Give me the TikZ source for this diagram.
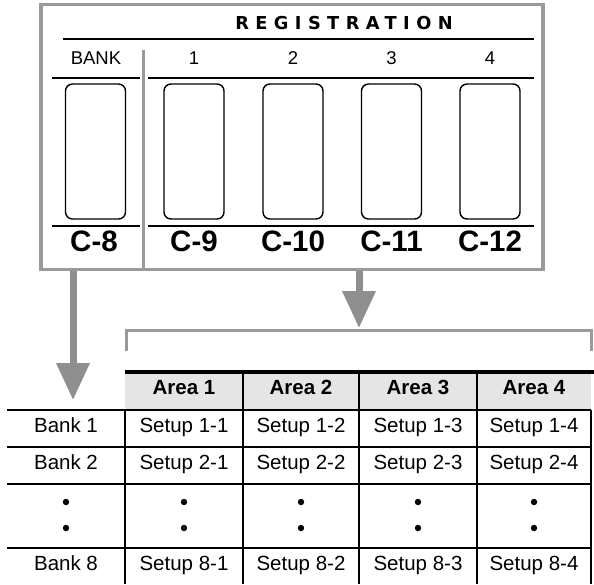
\documentclass[tikz,border=0pt]{standalone}
\usepackage{fontspec}
\setmainfont{Liberation Sans}
\newfontfamily\regfont[LetterSpace=36]{DejaVu Sans}
\usetikzlibrary{positioning,arrows.meta}
\definecolor{pgray}{RGB}{154,154,154}
\definecolor{agray}{RGB}{143,143,143}
\definecolor{hdfill}{RGB}{229,229,229}
\tikzset{
  panelframe/.style={draw=pgray,line width=3.5pt},
  divline/.style={draw=pgray,line width=3pt},
  rule/.style={line width=1.4pt},
  keybox/.style={draw,line width=1.4pt,rounded corners=7pt,minimum width=60pt,minimum height=135pt,inner sep=0pt},
  klab/.style={font=\fontsize{18.5}{20}\selectfont,inner sep=0pt,text height=0.716em,text depth=0pt},
  regtitle/.style={font=\regfont\bfseries\fontsize{17.8}{20}\selectfont,inner sep=0pt,text height=0.73em,text depth=0pt},
  cnum/.style={font=\fontsize{29.5}{32}\selectfont\bfseries,inner sep=0pt,text height=0.716em,text depth=0pt},
  bigarrow/.style={draw=agray,line width=7pt,-{Triangle[length=37pt,width=32pt]}},
  bracket/.style={draw=pgray,line width=3pt},
  tline/.style={line width=1.3pt},
  cell/.style={font=\fontsize{20.5}{24}\selectfont,inner sep=0pt,text height=0.716em,text depth=0pt},
  hcell/.style={cell,font=\fontsize{20.5}{24}\selectfont\bfseries},
  vdot/.style={circle,fill,inner sep=0pt,minimum size=6.4pt}
}
\begin{document}
\begin{tikzpicture}[x=1pt,y=-1pt]
  \useasboundingbox (0,0) rectangle (594,584);
  % arrows out of the panel
  \coordinate (lsrc) at (73,269.5); \coordinate (ltip) at (73,400);
  \coordinate (rsrc) at (359,269.5); \coordinate (rtip) at (359,328);
  \draw[bigarrow] (lsrc) -- (ltip);
  \draw[bigarrow] (rsrc) -- (rtip);
  % panel
  \draw[panelframe] (41,4.5) rectangle (543,269.5);
  \node[regtitle] (reg) at (344,26) {REGISTRATION};
  \draw[line width=2.2pt] (63,39) -- (534,39);
  \draw[divline] (143,50) -- (143,269.5);
  \foreach \y in {78,226} {\draw[rule] (52,\y) -- (140,\y); \draw[rule] (148,\y) -- (534,\y);}
  \node[keybox] (kb) at (95.5,151.5) {};
  \node[klab] (lb) at (96,61) {BANK};
  \node[cnum] (cb) at (94,248) {C-8};
  \foreach \i/\x/\c in {1/194/9,2/293/10,3/391.5/11,4/490/12} {
    \node[keybox] (k\i) at (\x,151.5) {};
    \node[klab] (l\i) at (\x,61) {\i};
    \node[cnum] (c\i) at (\x,248) {C-\c};
  }
  % bracket
  \coordinate (bl) at (126,351); \coordinate (br) at (591,351);
  \draw[bracket] (bl) -- (126,330) -- (591,330) -- (br);
  % table
  \fill[hdfill] (125,372) rectangle (591,410);
  \draw[line width=4pt] (125,372) -- (594,372);
  \foreach \y in {410,447,484,548} \draw[tline] (7,\y) -- (591,\y);
  \draw[tline] (125,410) -- (125,584); \draw[tline] (591,410) -- (591,584);
  \foreach \x in {243,359,477} \draw[tline] (\x,374) -- (\x,584);
  \foreach \i/\x in {1/184,2/301,3/418,4/534} \node[hcell] (a\i) at (\x,391) {Area \i};
  \foreach \r/\y in {1/428.5,2/465.5,8/567} {
    \node[cell] (b\r) at (66,\y) {Bank \r};
    \foreach \i/\x in {1/184,2/301,3/418,4/534} \node[cell] (s\r\i) at (\x,\y) {Setup \r-\i};
  }
  \foreach \x [count=\n] in {66,184,301,418,534} {
    \node[vdot] (dt\n) at (\x,502) {}; \node[vdot] (db\n) at (\x,528) {};
  }
\end{tikzpicture}
\end{document}
